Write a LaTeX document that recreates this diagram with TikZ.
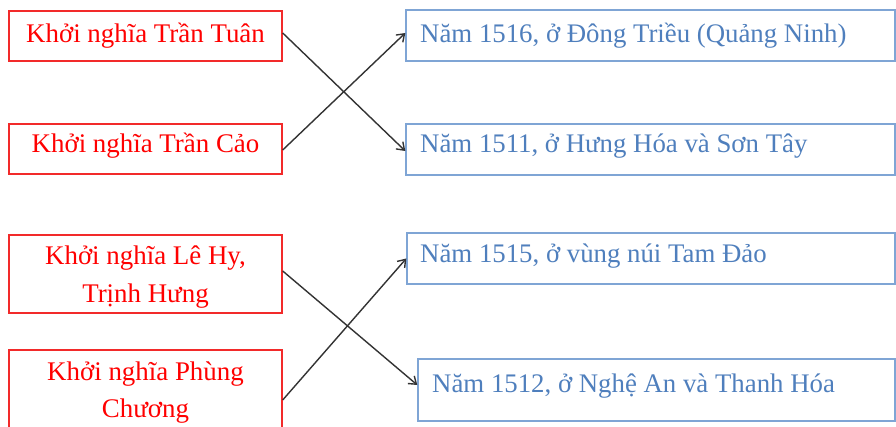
\documentclass[tikz,border=0pt]{standalone}
\usepackage{fontspec}
\setmainfont{Liberation Serif}
\usetikzlibrary{arrows.meta}
\definecolor{redtxt}{HTML}{FF0000}
\definecolor{redbox}{HTML}{F22A2A}
\definecolor{bluetxt}{HTML}{4F7FBD}
\definecolor{bluebox}{HTML}{7FA5D5}
\definecolor{arrowc}{HTML}{333333}
\tikzset{
  lbox/.style={draw=redbox, line width=1.4pt, rectangle, inner sep=0pt},
  rbox/.style={draw=bluebox, line width=1.4pt, rectangle, inner sep=0pt},
  ltext/.style={text=redtxt, font=\fontsize{26.9}{37}\selectfont, inner sep=0pt, anchor=base, align=center},
  rtext/.style={text=bluetxt, font=\fontsize{26.8}{36}\selectfont, inner sep=0pt, anchor=base west},
  conn/.style={draw=arrowc, line width=1.4pt, -{Straight Barb[length=7pt,width=10pt]}}
}
\begin{document}
\begin{tikzpicture}[x=1pt,y=-1pt]
\clip (0,0) rectangle (896,427);
\fill[white] (0,0) rectangle (896,427);
% left boxes
\node[lbox, minimum width=273pt, minimum height=50pt] (L1) at (145.5,36) {};
\node[lbox, minimum width=273pt, minimum height=50pt] (L2) at (145.5,149) {};
\node[lbox, minimum width=273pt, minimum height=78pt] (L3) at (145.5,274) {};
\node[lbox, minimum width=273pt, minimum height=100pt] (L4) at (145.5,400) {};
% right boxes
\node[rbox, minimum width=489pt, minimum height=51pt] (R1) at (650.5,35.5) {};
\node[rbox, minimum width=489pt, minimum height=51pt] (R2) at (650.5,149.5) {};
\node[rbox, minimum width=488pt, minimum height=51pt] (R3) at (651,258.5) {};
\node[rbox, minimum width=477pt, minimum height=62pt] (R4) at (656.5,390) {};
% left texts
\node[ltext] (t1) at (145.5,42.5) {Khởi nghĩa Trần Tuân};
\node[ltext] (t2) at (145.5,153) {Khởi nghĩa Trần Cảo};
\node[ltext] (t3) at (145.5,302) {Khởi nghĩa Lê Hy,\\Trịnh Hưng};
\node[ltext] (t4) at (145.5,417) {Khởi nghĩa Phùng\\Chương};
% right texts
\node[rtext] (s1) at (420,42.5) {Năm 1516, ở Đông Triều (Quảng Ninh)};
\node[rtext] (s2) at (420,153) {Năm 1511, ở Hưng Hóa và Sơn Tây};
\node[rtext] (s3) at (420,263) {Năm 1515, ở vùng núi Tam Đảo};
\node[rtext] (s4) at (432,392) {Năm 1512, ở Nghệ An và Thanh Hóa};
% connectors
\draw[conn] ([yshift=3pt]L1.east) -- ([yshift=-1.5pt]R2.west);
\draw[conn] ([yshift=-1pt]L2.east) -- ([yshift=2.5pt]R1.west);
\draw[conn] ([yshift=3pt]L3.east) -- ([yshift=5pt]R4.west);
\draw[conn] (L4.east) -- (R3.west);
\end{tikzpicture}
\end{document}
